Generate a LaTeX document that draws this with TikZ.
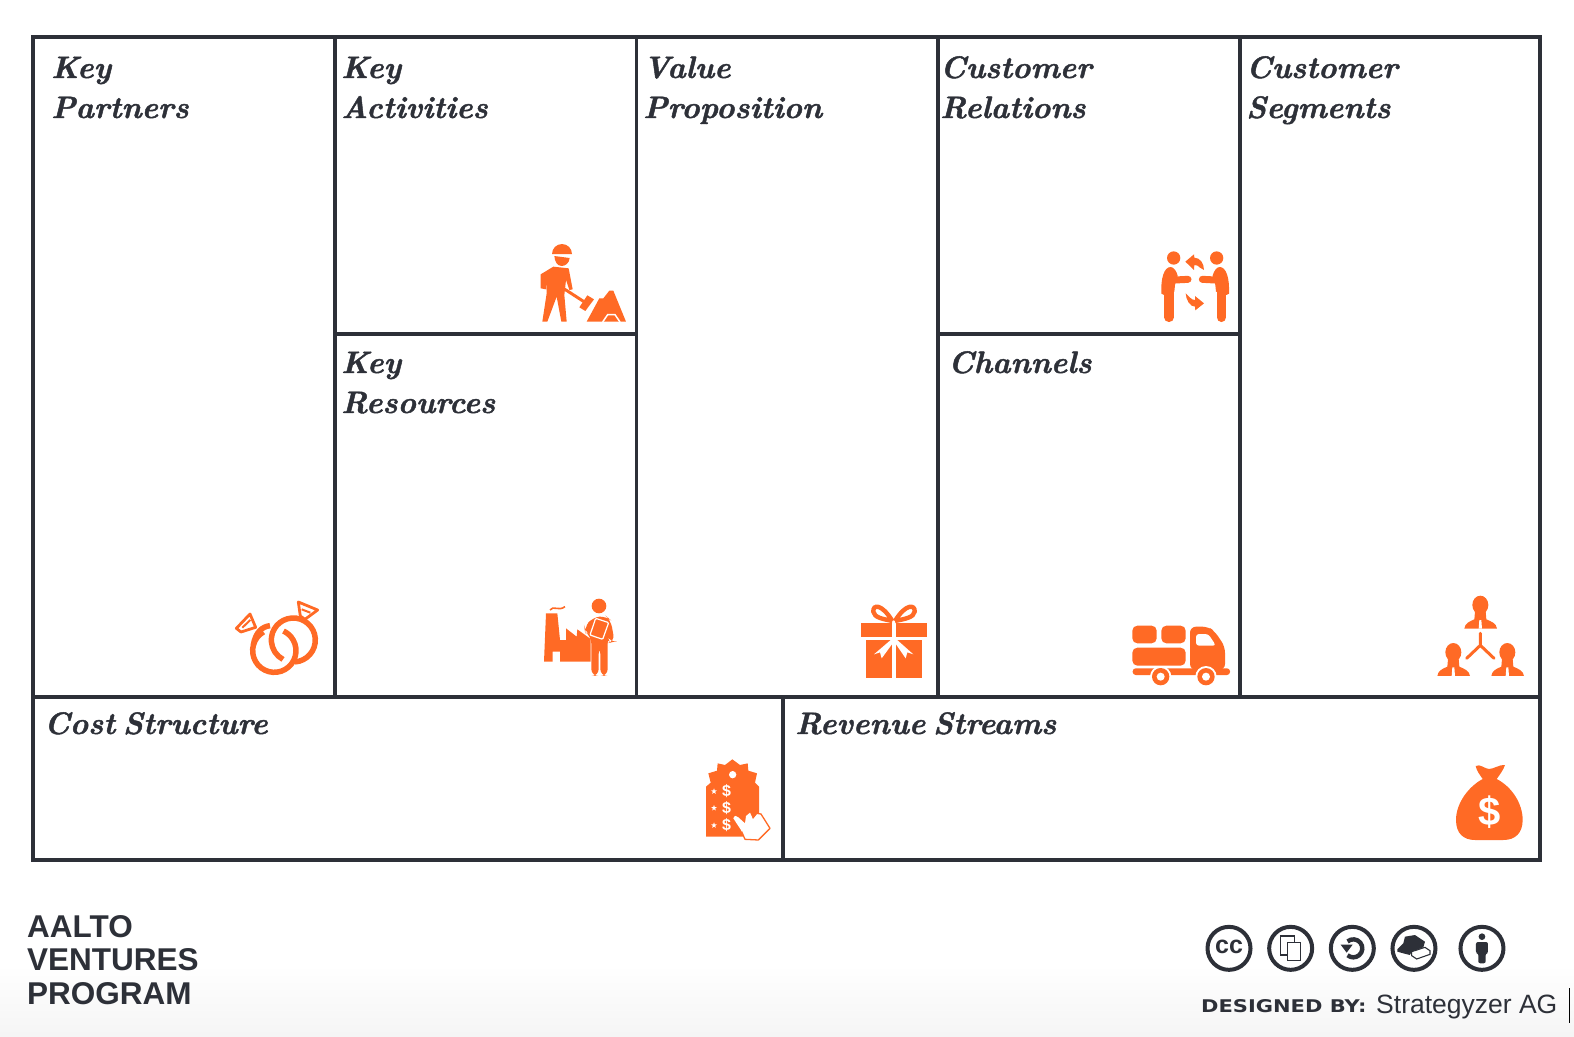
\documentclass[tikz,border=0pt]{standalone}
\usepackage{fontspec}
\usetikzlibrary{shapes.geometric}
\newfontfamily\labelfont{Liberation Sans}
\newfontfamily\widefont[FakeStretch=1.2]{DejaVu Sans}
\newfontfamily\titlefont[BoldItalicFeatures={FakeBold=1.4}, WordSpace=0.6]{Latin Modern Roman}
\definecolor{inkdark}{HTML}{2D3038}
\definecolor{accent}{HTML}{FF6A25}
\tikzset{
  boxtitle/.style={anchor=base west, align=left, inner sep=0pt, text=inkdark,
    font=\fontsize{31}{40}\selectfont\titlefont\bfseries\itshape},
  footname/.style={anchor=base west, align=left, inner sep=0pt, text=inkdark,
    font=\fontsize{31.5}{33.5}\selectfont\labelfont\bfseries},
  iconbox/.style={shift={#1}, scale=0.3333},
  licence/.style={draw=inkdark, line width=4pt, fill=white},
  tagstar/.style={star, star points=5, star point ratio=2.4, fill=white, inner sep=0pt, minimum size=6pt},
  dollar/.style={text=white, inner sep=0pt, font=\labelfont\bfseries},
}
\begin{document}
\begin{tikzpicture}[x=1pt, y=-1pt]
  \useasboundingbox (0,0) rectangle (1574,1036);
  \shade[top color=white, bottom color=black!4] (0,965) rectangle (1574,1036);
  % Canvas grid
  \draw[inkdark, line width=4pt] (33,37) rectangle (1540,860);
  \foreach \colx in {335,636.5,938,1240}
    \draw[inkdark, line width=3.5pt] (\colx,37) -- (\colx,697);
  \draw[inkdark, line width=3.5pt] (335,334) -- (636.5,334);
  \draw[inkdark, line width=3.5pt] (938,334) -- (1240,334);
  \draw[inkdark, line width=3.5pt] (33,697) -- (1540,697);
  \draw[inkdark, line width=3.5pt] (783,697) -- (783,860);
  % Titles
  \node[boxtitle] (partners) at (51,118) {Key\\Partners};
  \node[boxtitle] (activities) at (341,118) {Key\\Activities};
  \node[boxtitle] (resources) at (341,413) {Key\\Resources};
  \node[boxtitle] (proposition) at (643,118) {Value\\Proposition};
  \node[boxtitle] (relations) at (940,118) {Customer\\Relations};
  \node[boxtitle] (channels) at (948,373) {Channels};
  \node[boxtitle] (segments) at (1246,118) {Customer\\Segments};
  \node[boxtitle] (cost) at (44,734) {Cost Structure};
  \node[boxtitle] (revenue) at (795,734) {Revenue Streams};
  % Worker
  \begin{scope}[iconbox={(520,230)}, accent]
    \fill (96,72) arc (180:360:30) -- cycle;
    \fill (103,78) -- (149,84) .. controls (148,100) and (135,108) .. (125,108) .. controls (112,108) and (104,95) .. (103,78) -- cycle;
    \fill (62,133) -- (100,110) -- (146,115) -- (158,178) -- (148,180) -- (138,150)
      -- (133,195) -- (140,275) -- (124,275) -- (110,200) -- (82,275) -- (67,275)
      -- (80,190) -- (80,145) -- (78,178) -- (62,175) -- cycle;
    \draw[line width=3pt] (130,175) -- (195,217);
    \fill (178,232) -- (202,196) -- (222,208) -- (196,243) -- cycle;
    \fill (200,275) -- (238,205) -- (250,205) -- (268,182) -- (280,182) -- (318,275) -- cycle;
    \draw[white, line width=1.5pt] (248,276) -- (263,254) -- (285,254) -- (300,276);
  \end{scope}
  % Handshake
  \begin{scope}[iconbox={(1140,235)}, accent]
    \foreach \mirr/\offs in {1/0,-1/331} {
      \begin{scope}[shift={(\offs,0)}, xscale=\mirr]
        \fill (101,69) circle (20);
        \fill (64,176) .. controls (62,130) and (72,96) .. (92,96) .. controls (102,96) and (110,110) .. (113,122)
          -- (105,150) -- (103,170) -- (72,180) -- cycle;
        \draw[line width=9.5pt, line cap=round] (87,170) -- (87,247);
        \draw[line width=7pt, line cap=round] (105,135) -- (144,133);
      \end{scope}
    }
    \fill (136,80) -- (162,58) -- (163,68) .. controls (180,68) and (192,85) .. (192,105)
      -- (180,98) .. controls (175,92) and (170,90) .. (163,90) -- (162,105) -- cycle;
    \fill (192,205) -- (166,226) -- (165,215) .. controls (150,215) and (138,195) .. (137,175)
      -- (150,188) .. controls (155,193) and (160,195) .. (165,195) -- (165,183) -- cycle;
  \end{scope}
  % Rings
  \begin{scope}[iconbox={(225,590)}, accent]
    \draw[line width=5.5pt] (148,182) ++(240:65) arc (240:-65:65);
    \draw[line width=5.5pt] (135,107) .. controls (112,110) and (92,125) .. (85,165);
    \draw[line width=5.5pt] (205,150) ++(86:66) arc (86:-242:66);
    \draw[line width=2.8pt, line join=round] (34,115) -- (75,72) -- (92,112) -- (48,126) -- cycle;
    \draw[line width=2pt] (52,113) -- (76,90);
    \draw[line width=2.8pt, line join=round] (220,36) -- (278,60) -- (240,88) -- (226,78) -- cycle;
    \draw[line width=2pt] (230,58) -- (256,68);
  \end{scope}
  % Factory and person
  \begin{scope}[iconbox={(530,590)}, accent]
    \fill (42,215) -- (48,70) -- (82,70) -- (90,150) -- (108,150) -- (108,115) -- (140,140)
      -- (142,118) -- (182,147) -- (182,215) -- (90,215) -- (90,185) -- (68,185) -- (68,215) -- cycle;
    \draw[line width=1.6pt] (60,60) .. controls (70,45) and (85,65) .. (105,50);
    \fill (207,48) circle (22);
    \fill[rounded corners=7] (184,258) -- (184,140) -- (165,125) -- (163,112) -- (188,82) -- (228,78)
      -- (242,90) -- (254,155) -- (240,158) -- (233,140) -- (233,258) -- (211,258) -- (211,170)
      -- (206,170) -- (206,258) -- cycle;
    \draw[white, line width=1.2pt, fill=accent, rounded corners=1] (197,85) -- (236,98) -- (218,148) -- (180,135) -- cycle;
  \end{scope}
  % Gift
  \begin{scope}[iconbox={(850,595)}, accent]
    \fill (33,83) rectangle (125,125);
    \fill (138,83) rectangle (230,125);
    \fill (48,135) rectangle (127,248);
    \fill (137,135) rectangle (215,248);
    \fill[white] (128,130) -- (72,178) -- (90,172) -- (95,190) -- (128,145) -- cycle;
    \fill[white] (136,130) -- (190,178) -- (172,172) -- (167,190) -- (136,145) -- cycle;
    \draw[line width=4.4pt] (127,78) .. controls (95,25) and (68,28) .. (70,50) .. controls (72,68) and (100,72) .. (127,78);
    \draw[line width=4.4pt] (135,78) .. controls (167,25) and (196,28) .. (194,50) .. controls (192,68) and (162,72) .. (135,78);
  \end{scope}
  % Truck
  \begin{scope}[iconbox={(1120,610)}, accent]
    \fill[rounded corners=5] (37,47) rectangle (110,100);
    \fill[rounded corners=5] (124,47) rectangle (197,100);
    \fill[rounded corners=5] (37,113) rectangle (197,167);
    \fill[rounded corners=3] (38,175) rectangle (330,195);
    \fill[rounded corners=6] (210,180) -- (210,50) -- (265,50) -- (285,65) -- (315,110) -- (315,180) -- cycle;
    \fill[white, rounded corners=3] (228,72) -- (265,72) -- (288,107) -- (228,107) -- cycle;
    \foreach \wheelx in {122,258} {
      \fill[white] (\wheelx,200) circle (32);
      \fill (\wheelx,200) circle (26);
      \fill[white] (\wheelx,200) circle (12);
    }
  \end{scope}
  % Customer group
  \begin{scope}[iconbox={(1425,590)}, accent]
    \foreach \busx/\busy in {0/0,-81/142,81/142} {
      \begin{scope}[shift={(\busx,\busy)}]
        \fill (166,45) ellipse [x radius=24, y radius=28];
        \fill (150,65) -- (182,65) -- (184,88) .. controls (200,95) and (214,100) .. (216,116)
          -- (118,116) .. controls (120,100) and (132,95) .. (148,88) -- cycle;
        \fill[white] (163,90) -- (169,90) -- (171,116) -- (161,116) -- cycle;
      \end{scope}
    }
    \draw[line width=3pt, line cap=round] (166,130) -- (166,166) -- (125,205);
    \draw[line width=3pt, line cap=round] (166,166) -- (207,205);
  \end{scope}
  % Price tag
  \begin{scope}[iconbox={(695,750)}, accent]
    \fill (33,260) -- (33,110) -- (47,98) -- (40,70) -- (66,62) -- (68,40) -- (90,45) -- (112,28)
      -- (135,45) -- (158,40) -- (160,62) -- (186,70) -- (180,98) -- (192,110) -- (192,260) -- cycle;
    \fill[white] (113,74) circle (11);
    \foreach \rowy [count=\rowi] in {124,174,226} {
      \node[tagstar] (tagstar\rowi) at (57,\rowy) {};
      \node[dollar, font=\fontsize{16}{16}\selectfont\labelfont\bfseries] (tagprice\rowi) at (95,\rowy) {\$};
    }
    \fill[white] (115,205) .. controls (118,195) and (126,197) .. (130,202) -- (150,220) -- (153,198)
      -- (165,188) -- (173,205) -- (185,190) -- (198,192) -- (225,235) -- (190,270) -- (150,268) -- (138,240) -- cycle;
    \draw[line width=1.3pt, line join=round] (173,205) -- (185,190) -- (198,192) -- (225,235) -- (190,270) -- (150,268) -- (140,245);
  \end{scope}
  % Money bag
  \begin{scope}[iconbox={(1445,755)}, accent]
    \fill (92,33) .. controls (105,25) and (120,42) .. (132,42) .. controls (146,42) and (164,28) .. (180,30)
      .. controls (175,45) and (165,58) .. (155,72) .. controls (200,95) and (233,145) .. (233,195)
      .. controls (233,235) and (210,255) .. (175,255) -- (90,255) .. controls (55,255) and (33,235) .. (33,195)
      .. controls (33,145) and (70,95) .. (113,72) .. controls (105,60) and (95,48) .. (92,33) -- cycle;
    \node[dollar, font=\fontsize{40}{40}\selectfont\labelfont\bfseries] (bagprice) at (135,170) {\$};
  \end{scope}
  % Licence badges
  \begin{scope}[iconbox={(1190,910)}, inkdark]
    \foreach \badgex [count=\badgei] in {117,302,487,672,876}
      \node[circle, licence, minimum size=43pt, inner sep=0pt] (badge\badgei) at (\badgex,115) {};
    \node[text=inkdark, inner sep=0pt, font=\fontsize{25}{25}\selectfont\labelfont\bfseries] (ccmark) at (117,112) {cc};
    \draw[line width=1.6pt] (272,78) rectangle (313,135);
    \draw[line width=1.6pt, fill=white] (292,98) rectangle (332,152);
    \draw[line width=4.4pt] (490,115) ++(-130:27) arc (-130:130:27);
    \fill (452,104) -- (488,104) -- (470,128) -- cycle;
    \fill (622,118) -- (640,100) -- (645,80) -- (675,75) -- (705,95) -- (700,112) -- (665,125)
      -- (660,135) -- (640,130) -- (622,125) -- cycle;
    \draw[line width=1.1pt, fill=white] (665,125) -- (705,112) -- (720,122) -- (720,133) -- (680,147) -- (665,137) -- cycle;
    \fill (876,80) circle (10);
    \fill[rounded corners=2] (858,96) -- (894,96) -- (894,130) -- (887,130) -- (887,160) -- (865,160) -- (865,130) -- (858,130) -- cycle;
  \end{scope}
  % Footer
  \node[footname] (program) at (27,1004) {AALTO\\VENTURES\\PROGRAM};
  \node[anchor=base west, inner sep=0pt, text=inkdark, font=\fontsize{17.5}{17.5}\selectfont\widefont\bfseries] (designed) at (1201,1012.5) {DESIGNED BY:};
  \node[anchor=base west, inner sep=0pt, text=inkdark, font=\fontsize{26.5}{26.5}\selectfont\labelfont] (strategyzer) at (1376,1013) {Strategyzer AG};
  \coordinate (bartop) at (1569,988);
  \coordinate (barbottom) at (1569,1023);
  \draw[black, line width=1pt] (bartop) -- (barbottom);
\end{tikzpicture}
\end{document}
